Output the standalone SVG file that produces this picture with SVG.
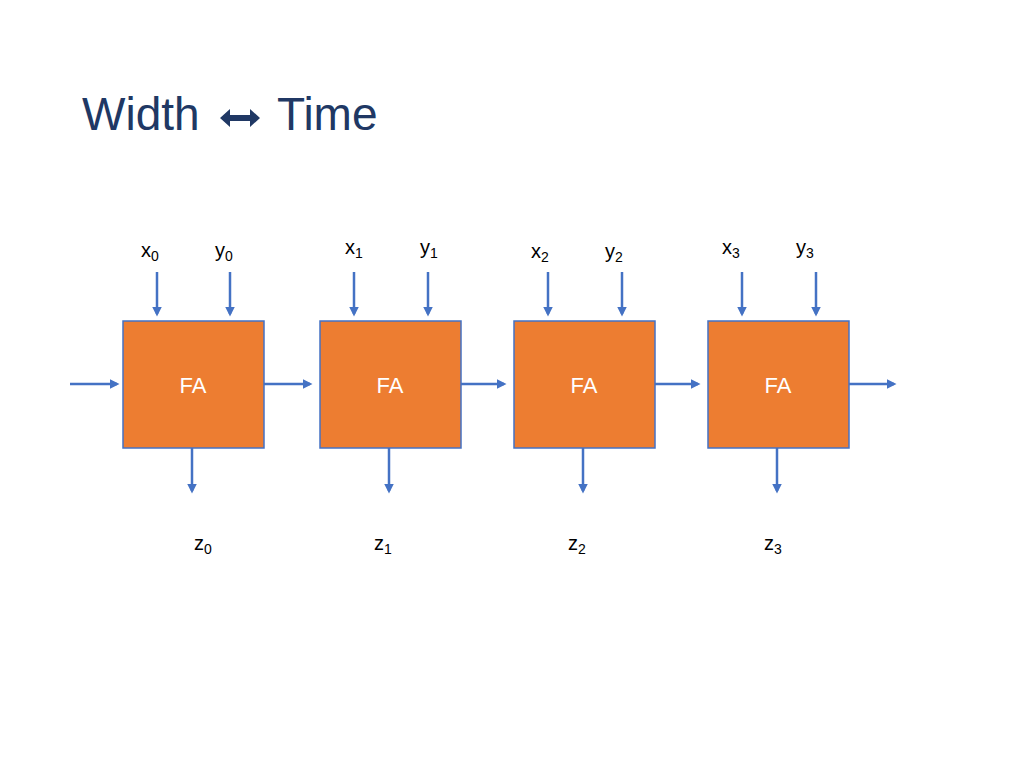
<svg xmlns="http://www.w3.org/2000/svg" width="1024" height="768" viewBox="0 0 1024 768">
<style>
.t{font-family:"Liberation Sans",Arial,sans-serif;font-size:20px;fill:#000}
.s{font-size:14px}
.b{fill:#ED7D31;stroke:#4472C4;stroke-width:1.5}
.f{font-family:"Liberation Sans",Arial,sans-serif;font-size:22px;fill:#fff;text-anchor:middle}
.c{stroke:#4472C4;stroke-width:2.5;fill:none;marker-end:url(#a)}
</style>
<defs><marker id="a" markerWidth="4" markerHeight="4" refX="3" refY="2" orient="auto"><path d="M0,0L4,2L0,4z" fill="#4472C4"/></marker></defs>
<rect width="1024" height="768" fill="#fff"/>
<text x="82" y="130" font-family="Liberation Sans,Arial,sans-serif" font-size="46" fill="#203864">Width</text>
<path d="M220,118 L230,109 L230,115 L250,115 L250,109 L260,118 L250,127 L250,121 L230,121 L230,127 Z" fill="#203864"/>
<text x="277" y="130" font-family="Liberation Sans,Arial,sans-serif" font-size="46" fill="#203864">Time</text>
<g id="fa0"><rect class="b" x="123" y="321" width="141" height="127"/><text class="f" x="193" y="393">FA</text></g>
<g id="fa1"><rect class="b" x="320" y="321" width="141" height="127"/><text class="f" x="390" y="393">FA</text></g>
<g id="fa2"><rect class="b" x="514" y="321" width="141" height="127"/><text class="f" x="584" y="393">FA</text></g>
<g id="fa3"><rect class="b" x="708" y="321" width="141" height="127"/><text class="f" x="778" y="393">FA</text></g>
<g id="connectors">
<path class="c" d="M70,384H117"/><path class="c" d="M264,384H310"/><path class="c" d="M461,384H504"/><path class="c" d="M655,384H698"/><path class="c" d="M849,384H894"/>
<path class="c" d="M157,272V314"/><path class="c" d="M230,272V314"/>
<path class="c" d="M354,272V314"/><path class="c" d="M428,272V314"/>
<path class="c" d="M548,272V314"/><path class="c" d="M622,272V314"/>
<path class="c" d="M742,272V314"/><path class="c" d="M816,272V314"/>
<path class="c" d="M192,448V491"/><path class="c" d="M389,448V491"/><path class="c" d="M583,448V491"/><path class="c" d="M777,448V491"/>
</g>
<g class="t">
<text x="141" y="257">x<tspan class="s" dy="4">0</tspan></text>
<text x="215" y="257">y<tspan class="s" dy="4">0</tspan></text>
<text x="345" y="254">x<tspan class="s" dy="4">1</tspan></text>
<text x="420" y="254">y<tspan class="s" dy="4">1</tspan></text>
<text x="531" y="258">x<tspan class="s" dy="4">2</tspan></text>
<text x="605" y="258">y<tspan class="s" dy="4">2</tspan></text>
<text x="722" y="254">x<tspan class="s" dy="4">3</tspan></text>
<text x="796" y="254">y<tspan class="s" dy="4">3</tspan></text>
<text x="194" y="550">z<tspan class="s" dy="4">0</tspan></text>
<text x="374" y="550">z<tspan class="s" dy="4">1</tspan></text>
<text x="568" y="550">z<tspan class="s" dy="4">2</tspan></text>
<text x="764" y="550">z<tspan class="s" dy="4">3</tspan></text>
</g>
</svg>
